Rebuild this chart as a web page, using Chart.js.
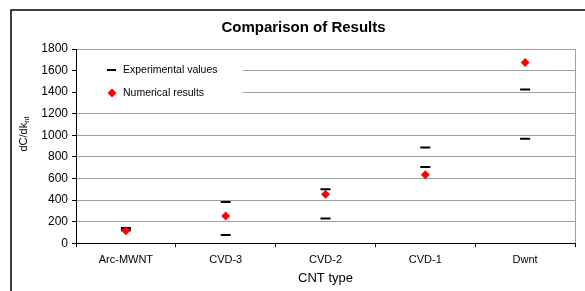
<!DOCTYPE html>
<html>
<head>
<meta charset="utf-8">
<script src="https://cdn.jsdelivr.net/npm/chart.js@4"></script>
<style>
  html, body { margin: 0; padding: 0; background: #fff; }
  #wrap { width: 585px; height: 291px; }
</style>
</head>
<body>
<div id="wrap"><canvas id="cntChart"></canvas></div>
<script>
// data
let categories = ["Arc-MWNT", "CVD-3", "CVD-2", "CVD-1", "Dwnt"];
let expHigh = [140, 382, 500, 886, 1424];
let expLow = [120, 75, 230, 706, 967];
let numerical = [115, 252, 454, 634, 1676];
let yTicks = [0, 200, 400, 600, 800, 1000, 1200, 1400, 1600, 1800];

let font = "'Liberation Sans', Arial, sans-serif";

// experimental points: two dashes per category
let expPoints = [];
for (let i = 0; i < categories.length; i++) {
    expPoints.push({ x: categories[i], y: expHigh[i] });
    expPoints.push({ x: categories[i], y: expLow[i] });
}
let numPoints = [];
for (let i = 0; i < categories.length; i++) {
    numPoints.push({ x: categories[i], y: numerical[i] });
}

// frame, right border, legend box and y title with subscript
let extras = {
    id: "extras",
    beforeDraw(chart) {
        let ctx = chart.ctx;
        ctx.save();
        ctx.strokeStyle = "#000";
        ctx.lineWidth = 1.5;
        ctx.strokeRect(11, 10, 620, 320);
        ctx.restore();
    },
    beforeDatasetsDraw(chart) {
        let ctx = chart.ctx;
        let area = chart.chartArea;
        ctx.save();
        // right border of plot area
        ctx.strokeStyle = "#a0a0a0";
        ctx.lineWidth = 1;
        ctx.beginPath();
        ctx.moveTo(area.right + 0.5, area.top);
        ctx.lineTo(area.right + 0.5, area.bottom);
        ctx.stroke();
        // legend box (white, hides grid)
        ctx.fillStyle = "#fff";
        ctx.fillRect(area.left + 1, 58, 243 - area.left - 1, 46);
        let items = chart.data.datasets;
        let rows = [70, 93];
        ctx.font = "10.5px " + font;
        ctx.textBaseline = "middle";
        ctx.textAlign = "left";
        for (let i = 0; i < items.length; i++) {
            let ds = items[i];
            let y = rows[i];
            if (ds.pointStyle === "line") {
                ctx.strokeStyle = ds.borderColor;
                ctx.lineWidth = 2;
                ctx.beginPath();
                ctx.moveTo(107, y);
                ctx.lineTo(116, y);
                ctx.stroke();
            } else {
                ctx.fillStyle = ds.backgroundColor;
                ctx.beginPath();
                ctx.moveTo(112, y - 4.5);
                ctx.lineTo(116.5, y);
                ctx.lineTo(112, y + 4.5);
                ctx.lineTo(107.5, y);
                ctx.closePath();
                ctx.fill();
            }
            ctx.fillStyle = "#000";
            ctx.fillText(ds.label, 123, y);
        }
        ctx.restore();
    },
    afterDraw(chart) {
        let ctx = chart.ctx;
        ctx.save();
        ctx.translate(24, 134);
        ctx.rotate(-Math.PI / 2);
        ctx.fillStyle = "#000";
        ctx.textBaseline = "middle";
        let main = "dC/dk";
        let sub = "nt";
        ctx.font = "7.5px " + font;
        let subW = ctx.measureText(sub).width;
        ctx.font = "11px " + font;
        let mainW = ctx.measureText(main).width;
        let x0 = -(mainW + subW) / 2;
        ctx.textAlign = "left";
        ctx.fillText(main, x0, 0);
        ctx.font = "7.5px " + font;
        ctx.fillText(sub, x0 + mainW, 2.5);
        ctx.restore();
    }
};

let ctx1 = document.getElementById("cntChart").getContext("2d");
let myChart = new Chart(ctx1, {
    type: "line",
    data: {
        labels: categories,
        datasets: [
            {
                label: "Experimental values",
                data: expPoints,
                showLine: false,
                pointStyle: "line",
                pointRadius: 5,
                borderColor: "#000",
                backgroundColor: "#000",
                pointBorderWidth: 2,
                order: 1
            },
            {
                label: "Numerical results",
                data: numPoints,
                showLine: false,
                pointStyle: "rectRot",
                pointRadius: 4.5,
                borderColor: "#ff0000",
                backgroundColor: "#ff0000",
                pointBorderWidth: 0,
                order: 0
            }
        ]
    },
    options: {
        responsive: true,
        maintainAspectRatio: false,
        animation: false,
        layout: { padding: { left: 32, right: 10, top: 0, bottom: 5 } },
        plugins: {
            legend: { display: false },
            tooltip: { enabled: false },
            title: {
                display: true,
                text: "Comparison of Results",
                color: "#000",
                font: { family: font, size: 15, weight: "bold" },
                padding: { top: 19, bottom: 12 }
            }
        },
        scales: {
            x: {
                type: "category",
                offset: true,
                border: { color: "#000", width: 1 },
                grid: {
                    display: true,
                    offset: true,
                    drawOnChartArea: false,
                    drawTicks: true,
                    tickLength: 4,
                    tickColor: "#000"
                },
                ticks: {
                    color: "#000",
                    padding: 6,
                    maxRotation: 0,
                    font: { family: font, size: 11 }
                },
                title: {
                    display: true,
                    text: "CNT type",
                    color: "#000",
                    padding: { top: -2, bottom: 0 },
                    font: { family: font, size: 13 }
                }
            },
            y: {
                min: 0,
                max: 1800,
                border: { color: "#000", width: 1 },
                grid: {
                    color: "#a0a0a0",
                    tickColor: "#000",
                    tickLength: 4
                },
                afterBuildTicks(scale) {
                    scale.ticks = yTicks.map(v => ({ value: v }));
                },
                afterFit(scale) {
                    scale.width = 44;
                },
                ticks: {
                    color: "#000",
                    padding: 4,
                    font: { family: font, size: 12 },
                    callback: v => String(v)
                }
            }
        }
    },
    plugins: [extras]
});
</script>
</body>
</html>
